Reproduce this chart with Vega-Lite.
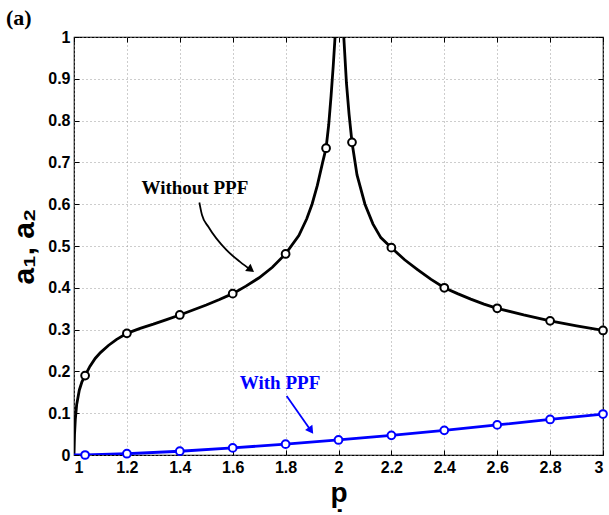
{
  "$schema": "https://vega.github.io/schema/vega-lite/v6.json",
  "width": 529,
  "height": 418,
  "autosize": "none",
  "padding": {"left": 74, "top": 37, "right": 6, "bottom": 60},
  "background": "white",
  "title": {"text": "(a)", "font": "Liberation Serif", "fontSize": 22, "fontWeight": "bold", "color": "black", "anchor": "start", "frame": "group", "dx": -68, "dy": 26, "offset": 8, "baseline": "alphabetic"},
  "datasets": {
    "curve": [
      {"p": 1.0, "a": 0.0, "series": "Without PPF", "branch": "L"},
      {"p": 1.002, "a": 0.05, "series": "Without PPF", "branch": "L"},
      {"p": 1.005, "a": 0.085, "series": "Without PPF", "branch": "L"},
      {"p": 1.01, "a": 0.12, "series": "Without PPF", "branch": "L"},
      {"p": 1.02, "a": 0.155, "series": "Without PPF", "branch": "L"},
      {"p": 1.03, "a": 0.175, "series": "Without PPF", "branch": "L"},
      {"p": 1.042, "a": 0.19, "series": "Without PPF", "branch": "L"},
      {"p": 1.06, "a": 0.212, "series": "Without PPF", "branch": "L"},
      {"p": 1.08, "a": 0.231, "series": "Without PPF", "branch": "L"},
      {"p": 1.1, "a": 0.245, "series": "Without PPF", "branch": "L"},
      {"p": 1.13, "a": 0.262, "series": "Without PPF", "branch": "L"},
      {"p": 1.16, "a": 0.276, "series": "Without PPF", "branch": "L"},
      {"p": 1.2, "a": 0.291, "series": "Without PPF", "branch": "L"},
      {"p": 1.25, "a": 0.303, "series": "Without PPF", "branch": "L"},
      {"p": 1.3, "a": 0.313, "series": "Without PPF", "branch": "L"},
      {"p": 1.35, "a": 0.324, "series": "Without PPF", "branch": "L"},
      {"p": 1.4, "a": 0.335, "series": "Without PPF", "branch": "L"},
      {"p": 1.45, "a": 0.347, "series": "Without PPF", "branch": "L"},
      {"p": 1.5, "a": 0.359, "series": "Without PPF", "branch": "L"},
      {"p": 1.55, "a": 0.372, "series": "Without PPF", "branch": "L"},
      {"p": 1.6, "a": 0.386, "series": "Without PPF", "branch": "L"},
      {"p": 1.65, "a": 0.404, "series": "Without PPF", "branch": "L"},
      {"p": 1.7, "a": 0.424, "series": "Without PPF", "branch": "L"},
      {"p": 1.75, "a": 0.449, "series": "Without PPF", "branch": "L"},
      {"p": 1.8, "a": 0.481, "series": "Without PPF", "branch": "L"},
      {"p": 1.85, "a": 0.525, "series": "Without PPF", "branch": "L"},
      {"p": 1.88, "a": 0.565, "series": "Without PPF", "branch": "L"},
      {"p": 1.9, "a": 0.6, "series": "Without PPF", "branch": "L"},
      {"p": 1.92, "a": 0.645, "series": "Without PPF", "branch": "L"},
      {"p": 1.94, "a": 0.7, "series": "Without PPF", "branch": "L"},
      {"p": 1.953, "a": 0.734, "series": "Without PPF", "branch": "L"},
      {"p": 1.963, "a": 0.79, "series": "Without PPF", "branch": "L"},
      {"p": 1.972, "a": 0.86, "series": "Without PPF", "branch": "L"},
      {"p": 1.98, "a": 0.93, "series": "Without PPF", "branch": "L"},
      {"p": 1.987, "a": 1.0, "series": "Without PPF", "branch": "L"},
      {"p": 2.02, "a": 1.0, "series": "Without PPF", "branch": "R"},
      {"p": 2.03, "a": 0.89, "series": "Without PPF", "branch": "R"},
      {"p": 2.04, "a": 0.815, "series": "Without PPF", "branch": "R"},
      {"p": 2.051, "a": 0.748, "series": "Without PPF", "branch": "R"},
      {"p": 2.07, "a": 0.67, "series": "Without PPF", "branch": "R"},
      {"p": 2.1, "a": 0.6, "series": "Without PPF", "branch": "R"},
      {"p": 2.13, "a": 0.553, "series": "Without PPF", "branch": "R"},
      {"p": 2.16, "a": 0.52, "series": "Without PPF", "branch": "R"},
      {"p": 2.2, "a": 0.496, "series": "Without PPF", "branch": "R"},
      {"p": 2.25, "a": 0.467, "series": "Without PPF", "branch": "R"},
      {"p": 2.3, "a": 0.443, "series": "Without PPF", "branch": "R"},
      {"p": 2.35, "a": 0.42, "series": "Without PPF", "branch": "R"},
      {"p": 2.4, "a": 0.4, "series": "Without PPF", "branch": "R"},
      {"p": 2.45, "a": 0.386, "series": "Without PPF", "branch": "R"},
      {"p": 2.5, "a": 0.373, "series": "Without PPF", "branch": "R"},
      {"p": 2.55, "a": 0.361, "series": "Without PPF", "branch": "R"},
      {"p": 2.6, "a": 0.351, "series": "Without PPF", "branch": "R"},
      {"p": 2.7, "a": 0.335, "series": "Without PPF", "branch": "R"},
      {"p": 2.8, "a": 0.321, "series": "Without PPF", "branch": "R"},
      {"p": 2.9, "a": 0.309, "series": "Without PPF", "branch": "R"},
      {"p": 3.0, "a": 0.298, "series": "Without PPF", "branch": "R"},
      {"p": 1.0, "a": 0.0, "series": "With PPF", "branch": "B"},
      {"p": 1.042, "a": 0.0, "series": "With PPF", "branch": "B"},
      {"p": 1.2, "a": 0.003, "series": "With PPF", "branch": "B"},
      {"p": 1.4, "a": 0.009, "series": "With PPF", "branch": "B"},
      {"p": 1.6, "a": 0.017, "series": "With PPF", "branch": "B"},
      {"p": 1.8, "a": 0.026, "series": "With PPF", "branch": "B"},
      {"p": 2.0, "a": 0.036, "series": "With PPF", "branch": "B"},
      {"p": 2.2, "a": 0.047, "series": "With PPF", "branch": "B"},
      {"p": 2.4, "a": 0.059, "series": "With PPF", "branch": "B"},
      {"p": 2.6, "a": 0.072, "series": "With PPF", "branch": "B"},
      {"p": 2.8, "a": 0.085, "series": "With PPF", "branch": "B"},
      {"p": 3.0, "a": 0.098, "series": "With PPF", "branch": "B"}
    ],
    "markers": [
      {"p": 1.042, "a": 0.19, "series": "Without PPF"},
      {"p": 1.2, "a": 0.291, "series": "Without PPF"},
      {"p": 1.4, "a": 0.335, "series": "Without PPF"},
      {"p": 1.6, "a": 0.386, "series": "Without PPF"},
      {"p": 1.8, "a": 0.481, "series": "Without PPF"},
      {"p": 1.953, "a": 0.734, "series": "Without PPF"},
      {"p": 2.051, "a": 0.748, "series": "Without PPF"},
      {"p": 2.2, "a": 0.496, "series": "Without PPF"},
      {"p": 2.4, "a": 0.4, "series": "Without PPF"},
      {"p": 2.6, "a": 0.351, "series": "Without PPF"},
      {"p": 2.8, "a": 0.321, "series": "Without PPF"},
      {"p": 3.0, "a": 0.298, "series": "Without PPF"},
      {"p": 1.042, "a": 0.0, "series": "With PPF"},
      {"p": 1.2, "a": 0.003, "series": "With PPF"},
      {"p": 1.4, "a": 0.009, "series": "With PPF"},
      {"p": 1.6, "a": 0.017, "series": "With PPF"},
      {"p": 1.8, "a": 0.026, "series": "With PPF"},
      {"p": 2.0, "a": 0.036, "series": "With PPF"},
      {"p": 2.2, "a": 0.047, "series": "With PPF"},
      {"p": 2.4, "a": 0.059, "series": "With PPF"},
      {"p": 2.6, "a": 0.072, "series": "With PPF"},
      {"p": 2.8, "a": 0.085, "series": "With PPF"},
      {"p": 3.0, "a": 0.098, "series": "With PPF"}
    ],
    "arrows": [
      {"p": 1.474, "a": 0.604, "series": "Without PPF", "i": 0},
      {"p": 1.484, "a": 0.574, "series": "Without PPF", "i": 1},
      {"p": 1.508, "a": 0.546, "series": "Without PPF", "i": 2},
      {"p": 1.577, "a": 0.49, "series": "Without PPF", "i": 3},
      {"p": 1.628, "a": 0.462, "series": "Without PPF", "i": 4},
      {"p": 1.67, "a": 0.442, "series": "Without PPF", "i": 5},
      {"p": 1.804, "a": 0.141, "series": "With PPF", "i": 0},
      {"p": 1.898, "a": 0.056, "series": "With PPF", "i": 1}
    ],
    "heads": [
      {"p": 1.665, "a": 0.445, "series": "Without PPF"}
    ],
    "heads2": [
      {"p": 1.893, "a": 0.061, "series": "With PPF"}
    ],
    "labels": [
      {"p": 1.457, "a": 0.639, "series": "Without PPF"},
      {"p": 1.779, "a": 0.172, "series": "With PPF"}
    ]
  },
  "resolve": {"axis": {"x": "independent", "y": "independent"}},
  "layer": [
    {
      "data": {"name": "curve"},
      "mark": {"type": "line", "strokeWidth": 2.8, "clip": true},
      "encoding": {
        "x": {"field": "p", "type": "quantitative", "scale": {"domain": [1, 3], "nice": false},
          "axis": {"orient": "bottom", "values": [1, 1.2, 1.4, 1.6, 1.8, 2, 2.2, 2.4, 2.6, 2.8, 3], "format": "~g", "title": "p̣", "titleFontSize": 28, "titlePadding": 4}},
        "y": {"field": "a", "type": "quantitative", "scale": {"domain": [0, 1], "nice": false},
          "axis": {"orient": "left", "values": [0, 0.1, 0.2, 0.3, 0.4, 0.5, 0.6, 0.7, 0.8, 0.9, 1], "format": "~g", "title": "a₁, a₂", "titleFontSize": 30, "titlePadding": 8}},
        "color": {"field": "series", "type": "nominal", "scale": {"domain": ["Without PPF", "With PPF"], "range": ["#000000", "#0000ff"]}, "legend": null},
        "detail": {"field": "branch"}
      }
    },
    {
      "data": {"name": "markers"},
      "mark": {"type": "point", "filled": false, "fill": "white", "fillOpacity": 1, "strokeWidth": 2, "size": 60, "opacity": 1},
      "encoding": {
        "x": {"field": "p", "type": "quantitative", "axis": null},
        "y": {"field": "a", "type": "quantitative", "axis": null},
        "color": {"field": "series", "type": "nominal", "legend": null}
      }
    },
    {
      "data": {"name": "arrows"},
      "mark": {"type": "line", "strokeWidth": 1.8, "interpolate": "monotone"},
      "encoding": {
        "x": {"field": "p", "type": "quantitative", "axis": null},
        "y": {"field": "a", "type": "quantitative", "axis": null},
        "order": {"field": "i"},
        "color": {"field": "series", "type": "nominal", "legend": null}
      }
    },
    {
      "data": {"name": "heads"},
      "mark": {"type": "point", "shape": "triangle", "filled": true, "size": 80, "angle": 127, "opacity": 1},
      "encoding": {
        "x": {"field": "p", "type": "quantitative", "axis": null},
        "y": {"field": "a", "type": "quantitative", "axis": null},
        "color": {"field": "series", "type": "nominal", "legend": null}
      }
    },
    {
      "data": {"name": "heads2"},
      "mark": {"type": "point", "shape": "triangle", "filled": true, "size": 80, "angle": 145, "opacity": 1},
      "encoding": {
        "x": {"field": "p", "type": "quantitative", "axis": null},
        "y": {"field": "a", "type": "quantitative", "axis": null},
        "color": {"field": "series", "type": "nominal", "legend": null}
      }
    },
    {
      "data": {"name": "labels"},
      "mark": {"type": "text", "font": "Liberation Serif", "fontWeight": "bold", "fontSize": 19},
      "encoding": {
        "x": {"field": "p", "type": "quantitative", "axis": null},
        "y": {"field": "a", "type": "quantitative", "axis": null},
        "text": {"field": "series"},
        "color": {"field": "series", "type": "nominal", "legend": null}
      }
    },
    {
      "data": {"name": "markers"},
      "mark": {"type": "point", "opacity": 0},
      "encoding": {
        "x": {"field": "p", "type": "quantitative",
          "axis": {"orient": "top", "values": [1, 1.2, 1.4, 1.6, 1.8, 2, 2.2, 2.4, 2.6, 2.8, 3], "labels": false, "grid": false, "title": null}},
        "y": {"field": "a", "type": "quantitative",
          "axis": {"orient": "right", "values": [0, 0.1, 0.2, 0.3, 0.4, 0.5, 0.6, 0.7, 0.8, 0.9, 1], "labels": false, "grid": false, "title": null}}
      }
    }
  ],
  "config": {
    "view": {"stroke": "black", "strokeWidth": 1.2},
    "axis": {
      "domain": false,
      "grid": true,
      "gridColor": "#9a9a9a",
      "gridDash": [1, 3],
      "gridWidth": 1,
      "ticks": true,
      "tickColor": "black",
      "tickSize": -5,
      "tickWidth": 1,
      "labelFont": "Liberation Sans",
      "labelFontWeight": "bold",
      "labelFontSize": 16,
      "labelColor": "black",
      "labelPadding": 9,
      "titleFont": "Liberation Sans",
      "titleFontWeight": "bold",
      "titleColor": "black"
    }
  }
}
